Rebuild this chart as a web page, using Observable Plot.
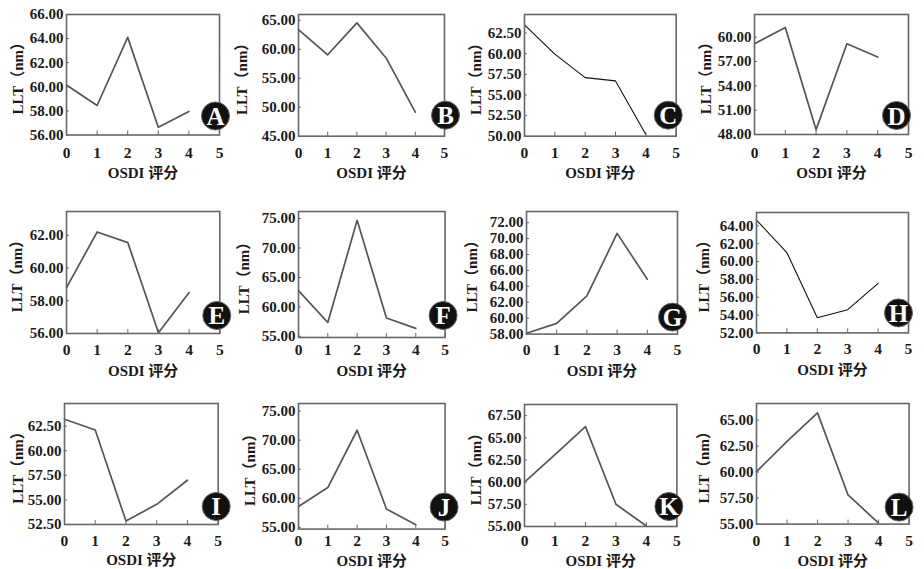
<!DOCTYPE html>
<html>
<head>
<meta charset="utf-8">
<script src="https://cdn.jsdelivr.net/npm/d3@7"></script>
<script src="https://cdn.jsdelivr.net/npm/@observablehq/plot@0.6"></script>
<style>
  html, body { margin: 0; padding: 0; background: #fff; }
  #wrap { position: relative; width: 924px; height: 569px; overflow: hidden; background: #fff; }
  #wrap > div { position: absolute; }
  #wrap svg { overflow: visible; }
</style>
</head>
<body>
<div id="wrap"></div>
<script>
// ---- data ----
const osdi = [0, 1, 2, 3, 4];
const xTicks = [0, 1, 2, 3, 4, 5];
const panelIds = ["A","B","C","D","E","F","G","H","I","J","K","L"];

const lltA = [60.15, 58.45, 64.1, 56.65, 57.95];
const lltB = [63.4, 59.05, 64.55, 58.5, 49.15];
const lltC = [63.5, 59.95, 57.1, 56.7, 50.2];
const lltD = [59.2, 61.2, 48.6, 59.2, 57.55];
const lltE = [58.8, 62.2, 61.55, 56.05, 58.5];
const lltF = [62.75, 57.35, 74.7, 58.1, 56.35];
const lltG = [58.1, 59.35, 62.8, 70.65, 64.9];
const lltH = [64.65, 61.0, 53.7, 54.6, 57.55];
const lltI = [63.2, 62.1, 52.85, 54.55, 57.0];
const lltJ = [58.6, 61.85, 71.7, 58.15, 55.45];
const lltK = [60.0, 63.1, 66.25, 57.5, 55.05];
const lltL = [60.05, 62.95, 65.7, 57.8, 55.1];

const ticksA = [56, 58, 60, 62, 64, 66];
const ticksB = [45, 50, 55, 60, 65];
const ticksC = [50, 52.5, 55, 57.5, 60, 62.5];
const ticksD = [48, 51, 54, 57, 60];
const ticksE = [56, 58, 60, 62];
const ticksF = [55, 60, 65, 70, 75];
const ticksG = [58, 60, 62, 64, 66, 68, 70, 72];
const ticksH = [52, 54, 56, 58, 60, 62, 64];
const ticksI = [52.5, 55, 57.5, 60, 62.5];
const ticksJ = [55, 60, 65, 70, 75];
const ticksK = [55, 57.5, 60, 62.5, 65, 67.5];
const ticksL = [55, 57.5, 60, 62.5, 65];

const domA = [56, 66];
const domB = [45, 66];
const domC = [50, 64.75];
const domD = [48, 62.8];
const domE = [56, 63.45];
const domF = [54.8, 76.2];
const domG = [58, 73.4];
const domH = [52, 65.5];
const domI = [52.5, 64.8];
const domJ = [54.7, 76.3];
const domK = [55, 68.75];
const domL = [55, 66.6];

const xLabel = "OSDI 评分";
const yLabel = "LLT（nm）";

// ---- layout (frame left, top, width, height, y-label offset, badge dx, dy, thin line, row) ----
const layout = [
  [66, 14, 153, 120.5, 48, -4, -19, false, 0],
  [298, 14, 146, 121.7, 56, 1, -21, false, 0],
  [524.3, 14, 151.7, 121.7, 48, -8, -21, true, 0],
  [754.3, 14, 154, 120, 48, -12, -19, false, 0],
  [65.7, 210.7, 153.3, 122, 49, -3, -18, false, 1],
  [297.7, 210.7, 146.6, 126, 54, -2, -22, false, 1],
  [525.7, 210.7, 151, 122.6, 54, -5, -17, false, 1],
  [755.7, 212.3, 152, 120.4, 52, -10, -20, true, 1],
  [64, 403.3, 153.7, 121, 46, -2, -18, false, 2],
  [297.7, 402.7, 146.6, 125.6, 48, -1, -22, false, 2],
  [524.3, 404, 152.4, 122, 48, -8, -20, false, 2],
  [755.7, 402.7, 152.6, 120.6, 52, -10, -17, false, 2]
];
const rowLabelY = [173, 370, 560.5];
const rowTickY = [151.7, 348.3, 540];

const series = [lltA, lltB, lltC, lltD, lltE, lltF, lltG, lltH, lltI, lltJ, lltK, lltL];
const tickSets = [ticksA, ticksB, ticksC, ticksD, ticksE, ticksF, ticksG, ticksH, ticksI, ticksJ, ticksK, ticksL];
const domains = [domA, domB, domC, domD, domE, domF, domG, domH, domI, domJ, domK, domL];

const ML = 62, MT = 2, MR = 14, MB = 46;
const fmt = d3.format(".2f");
const serif = "'Liberation Serif', 'Times New Roman', 'DejaVu Serif', 'Noto Sans CJK SC', serif";
const wrap = document.getElementById("wrap");

panelIds.forEach((id, i) => {
  const [fl, ft, fw, fh, yOff, bdx, bdy, thin, row] = layout[i];
  const bottom = ft + fh;
  const labelDy = rowLabelY[row] - bottom;
  const tickPad = Math.max(4, rowTickY[row] - bottom - 5.5);
  const data = osdi.map((x, j) => ({x, y: series[i][j]}));
  const chart = Plot.plot({
    width: fw + ML + MR,
    height: fh + MT + MB,
    marginLeft: ML, marginTop: MT, marginRight: MR, marginBottom: MB,
    style: {fontSize: "14px", color: "#1a1a1a", background: "transparent", overflow: "visible"},
    x: {domain: [0, 5], label: null},
    y: {domain: domains[i], label: null},
    marks: [
      Plot.line(data, {x: "x", y: "y", stroke: thin ? "#111" : "#555", strokeWidth: thin ? 1.1 : 1.7}),
      Plot.frame({stroke: "#666", strokeWidth: 1.6}),
      Plot.axisX({ticks: xTicks, tickSize: 4, dy: -4, tickFormat: () => "", stroke: "#666"}),
      Plot.axisX({ticks: xTicks, tickSize: 0, tickPadding: tickPad, tickFormat: d => String(d), fontSize: 15.5, fill: "#1a1a1a"}),
      Plot.axisY({ticks: tickSets[i], tickSize: 3, dx: 3, tickFormat: () => "", stroke: "#666"}),
      Plot.axisY({ticks: tickSets[i], tickSize: 0, tickPadding: 3, tickFormat: fmt, fontSize: 15, fill: "#1a1a1a", style: {letterSpacing: "-0.5px"}}),
      Plot.text([yLabel], {frameAnchor: "left", text: d => d, rotate: -90, dx: -yOff, textAnchor: "middle", lineAnchor: "middle", fontSize: 15, fill: "#1a1a1a"}),
      Plot.text([xLabel], {frameAnchor: "bottom", text: d => d, dy: labelDy, textAnchor: "middle", lineAnchor: "middle", fontSize: 15, fill: "#1a1a1a"}),
      Plot.dot([id], {frameAnchor: "bottom-right", dx: bdx, dy: bdy, r: 14, fill: "#111", stroke: "#666", strokeWidth: 1}),
      Plot.text([id], {frameAnchor: "bottom-right", text: d => d, dx: bdx, dy: bdy + 1, textAnchor: "middle", lineAnchor: "middle", fill: "#fff", fontSize: 25})
    ]
  });
  chart.querySelectorAll("text").forEach(t => {
    t.style.fontFamily = serif;
    t.style.fontWeight = "bold";
  });
  const div = document.createElement("div");
  div.style.left = (fl - ML) + "px";
  div.style.top = (ft - MT) + "px";
  div.appendChild(chart);
  wrap.appendChild(div);
});
</script>
</body>
</html>
